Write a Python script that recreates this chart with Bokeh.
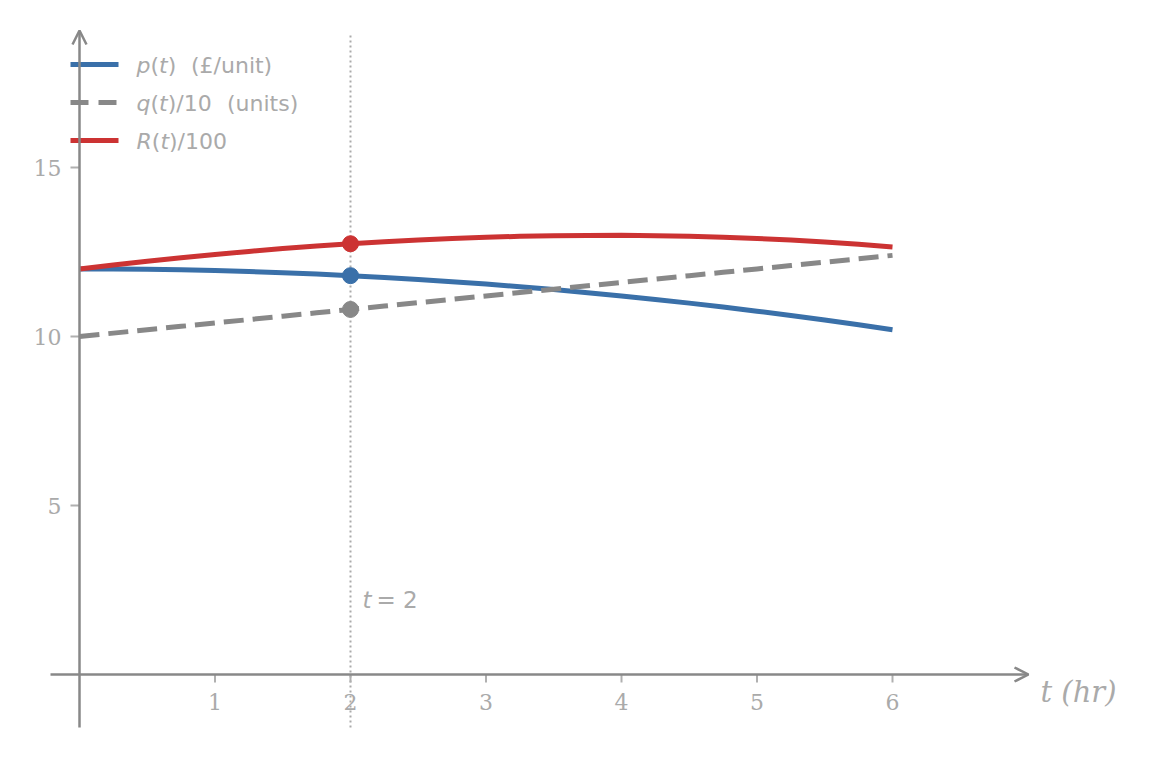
from bokeh.plotting import figure
from bokeh.models import Range1d, Arrow, OpenHead
from bokeh.core.properties import value
from bokeh.embed import file_html
from bokeh.resources import INLINE

# ---- data -------------------------------------------------------------
t_vals = [0.0, 0.25, 0.5, 0.75, 1.0, 1.25, 1.5, 1.75, 2.0, 2.25, 2.5, 2.75, 3.0,
          3.25, 3.5, 3.75, 4.0, 4.25, 4.5, 4.75, 5.0, 5.25, 5.5, 5.75, 6.0]
# price p(t) in £/unit
p_vals = [12.0, 11.9969, 11.9875, 11.9719, 11.95, 11.9219, 11.8875, 11.8469, 11.8,
          11.7469, 11.6875, 11.6219, 11.55, 11.4719, 11.3875, 11.2969, 11.2,
          11.0969, 10.9875, 10.8719, 10.75, 10.6219, 10.4875, 10.3469, 10.2]
# quantity q(t)/10 in units
q_vals = [10.0, 10.1, 10.2, 10.3, 10.4, 10.5, 10.6, 10.7, 10.8, 10.9, 11.0, 11.1, 11.2,
          11.3, 11.4, 11.5, 11.6, 11.7, 11.8, 11.9, 12.0, 12.1, 12.2, 12.3, 12.4]
# revenue R(t)/100
r_vals = [12.0, 12.1168, 12.2273, 12.331, 12.428, 12.518, 12.6008, 12.6762, 12.744,
          12.8041, 12.8563, 12.9003, 12.936, 12.9632, 12.9818, 12.9914, 12.992,
          12.9834, 12.9653, 12.9376, 12.9, 12.8525, 12.7948, 12.7267, 12.648]

t_mark = 2.0
x_ticks = [1, 2, 3, 4, 5, 6]
x_tick_labels = ["1", "2", "3", "4", "5", "6"]
y_ticks = [5, 10, 15]
y_tick_labels = ["5", "10", "15"]

# ---- page geometry ----------------------------------------------------
W, H = 1150, 757
X0, XS = 79.0, 135.5     # pixel of t=0, pixels per hour
Y0, YS = 674.0, 33.8     # pixel of value 0, pixels per unit


def dx(px):
    return (px - X0) / XS


def dy(py):
    return (Y0 - py) / YS


BLUE = "#3a70a9"
RED = "#cc3333"
GREY = "#888888"
AXIS = "#888888"
TEXT = "#aaaaaa"
SERIF = value("DejaVu Serif")
SANS = value("DejaVu Sans")
LW = 5

p = figure(width=W, height=H, output_backend="svg", toolbar_location=None,
           x_range=Range1d(dx(0), dx(W)), y_range=Range1d(dy(H), dy(0)),
           min_border=0, outline_line_color=None)
p.axis.visible = False
p.grid.visible = False
p.background_fill_color = "white"
p.border_fill_color = "white"

# vertical marker line at t = 2
p.segment(x0=[t_mark], y0=[dy(727)], x1=[t_mark], y1=[dy(32)],
          line_color="#aaaaaa", line_width=2, line_dash="2 3")

# axes with arrow heads
p.add_layout(Arrow(end=OpenHead(size=14, line_color=AXIS, line_width=2.5),
                   x_start=dx(50), y_start=0, x_end=dx(1028), y_end=0,
                   line_color=AXIS, line_width=2.5))
p.add_layout(Arrow(end=OpenHead(size=14, line_color=AXIS, line_width=2.5),
                   x_start=0, y_start=dy(727), x_end=0, y_end=dy(30),
                   line_color=AXIS, line_width=2.5))

# tick marks
p.segment(x0=x_ticks, y0=[0] * len(x_ticks), x1=x_ticks, y1=[dy(682)] * len(x_ticks),
          line_color="#b0b0b0", line_width=2)
p.segment(x0=[dx(70)] * len(y_ticks), y0=y_ticks, x1=[0] * len(y_ticks), y1=y_ticks,
          line_color="#b0b0b0", line_width=2)

# tick labels
p.text(x=x_ticks, y=[dy(701)] * len(x_ticks), text=x_tick_labels,
       text_font=SERIF, text_font_size="22px", text_color=TEXT,
       text_align="center", text_baseline="middle")
p.text(x=[dx(61)] * len(y_ticks), y=y_ticks, text=y_tick_labels,
       text_font=SERIF, text_font_size="22px", text_color=TEXT,
       text_align="right", text_baseline="middle")

# axis title
p.text(x=[dx(1040)], y=[dy(691)], text=["t (hr)"], text_font=SERIF,
       text_font_size="29px", text_font_style="italic", text_color=TEXT,
       text_align="left", text_baseline="middle")

# series
p.line(t_vals, p_vals, line_color=BLUE, line_width=LW)
p.line(t_vals, q_vals, line_color=GREY, line_width=LW, line_dash="20 9")
p.line(t_vals, r_vals, line_color=RED, line_width=LW)

i2 = t_vals.index(t_mark)
p.scatter([t_mark], [p_vals[i2]], size=16, fill_color=BLUE, line_color=BLUE)
p.scatter([t_mark], [q_vals[i2]], size=16, fill_color=GREY, line_color=GREY)
p.scatter([t_mark], [r_vals[i2]], size=16, fill_color=RED, line_color=RED)

# t = 2 annotation
p.text(x=[dx(362)], y=[dy(599)], text=["t"], text_font=SANS, text_font_size="23px",
       text_font_style="italic", text_color=TEXT, text_baseline="middle")
p.text(x=[dx(376)], y=[dy(599)], text=["= 2"], text_font=SANS, text_font_size="23px",
       text_color=TEXT, text_baseline="middle")

# legend
leg_y = [64, 102, 140]
p.segment(x0=[dx(70)], y0=[dy(leg_y[0])], x1=[dx(118)], y1=[dy(leg_y[0])],
          line_color=BLUE, line_width=LW)
p.segment(x0=[dx(70)], y0=[dy(leg_y[1])], x1=[dx(118)], y1=[dy(leg_y[1])],
          line_color=GREY, line_width=LW, line_dash="18 10")
p.segment(x0=[dx(70)], y0=[dy(leg_y[2])], x1=[dx(118)], y1=[dy(leg_y[2])],
          line_color=RED, line_width=LW)

leg_pieces = [
    # (left px, row, text, italic)
    (136, 0, "p", True), (150, 0, "(", False), (158.6, 0, "t", True),
    (167.2, 0, ")", False), (190.5, 0, "(£/unit)", False),
    (136, 1, "q", True), (150, 1, "(", False), (158.6, 1, "t", True),
    (167.2, 1, ")/10", False), (226.5, 1, "(units)", False),
    (136, 2, "R", True), (151.3, 2, "(", False), (159.9, 2, "t", True),
    (168.5, 2, ")/100", False),
]
for left, row, txt, ital in leg_pieces:
    p.text(x=[dx(left)], y=[dy(leg_y[row] + 1)], text=[txt], text_font=SANS,
           text_font_size="22px", text_font_style="italic" if ital else "normal",
           text_color=TEXT, text_align="left", text_baseline="middle")

open("out.html", "w").write(file_html(p, INLINE))
